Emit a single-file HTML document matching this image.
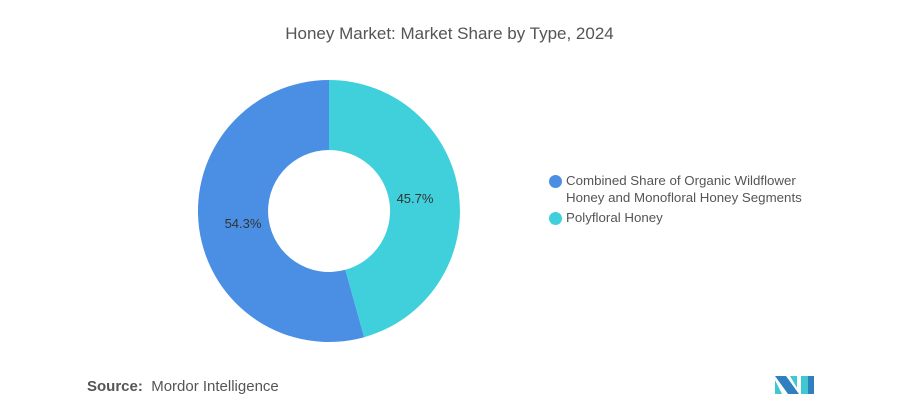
<!DOCTYPE html>
<html><head><style>
body{margin:0;width:899px;height:418px;background:#fff;font-family:"Liberation Sans",sans-serif;overflow:hidden;position:relative}
.t{position:absolute;left:0;width:899px;top:24px;text-align:center;font-size:17px;color:#555}
.lg{position:absolute;left:549px;font-size:13.3px;color:#555;line-height:17px}
.d{position:absolute;width:13px;height:13px;border-radius:50%}
</style></head><body>
<div class="t">Honey Market: Market Share by Type, 2024</div>
<svg width="899" height="418" style="position:absolute;left:0;top:0">
<path d="M329 80 A131 131 0 0 1 364.1 337.2 L345.3 269.8 A61 61 0 0 0 329 150 Z" fill="#40d0dc"/>
<path d="M364.1 337.2 A131 131 0 1 1 329 80 L329 150 A61 61 0 1 0 345.3 269.8 Z" fill="#4a8fe4"/>
<text x="243" y="228" font-size="13" fill="#333" text-anchor="middle" font-family="Liberation Sans">54.3%</text>
<text x="415" y="203" font-size="13" fill="#333" text-anchor="middle" font-family="Liberation Sans">45.7%</text>
<polygon points="775,376 786,376 799,394 788,394" fill="#2f7fc1"/>
<polygon points="775,380 782,394 775,394" fill="#40c8d0"/>
<polygon points="790,376 797,376 797,388" fill="#40c8d0"/>
<polygon points="801,376 808,376 814,394 801,394" fill="#40c8d0"/>
<rect x="808" y="376" width="6" height="18" fill="#2f7fc1"/>
</svg>
<div class="d" style="left:549px;top:175px;background:#4a8fe4"></div>
<div class="lg" style="left:566px;top:172px">Combined Share of Organic Wildflower<br>Honey and Monofloral Honey Segments</div>
<div class="d" style="left:549px;top:212px;background:#40d0dc"></div>
<div class="lg" style="left:566px;top:209px">Polyfloral Honey</div>
<div style="position:absolute;left:87px;top:378px;font-size:15px;color:#555"><b>Source:</b> &nbsp;Mordor Intelligence</div>
</body></html>
